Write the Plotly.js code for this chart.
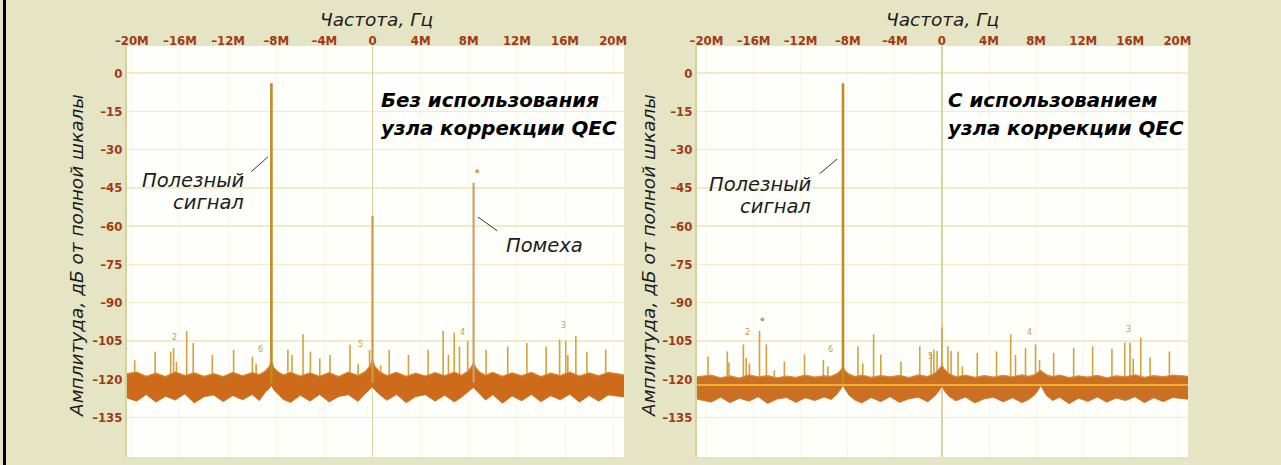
<!DOCTYPE html>
<html><head><meta charset="utf-8">
<script src="https://cdn.plot.ly/plotly-3.0.1.min.js"></script>
<style>html,body{margin:0;padding:0;background:#e5e4c4;overflow:hidden}#chart{width:1281px;height:465px}</style>
</head><body><div id="chart"></div>
<script>
// ---- data (frequency in MHz, level in dBFS) ----
const xTickVals = [-20,-16,-12,-8,-4,0,4,8,12,16,20];
const xTickText = ['–20M','–16M','–12M','–8M','–4M','0','4M','8M','12M','16M','20M'];
const yTickVals = [0,-15,-30,-45,-60,-75,-90,-105,-120,-135];
const yTickText = ['0','–15','–30','–45','–60','–75','–90','–105','–120','–135'];

const noiseFreq = [
 -21,-19.6,-18.8,-18.0,-17.2,-16.4,-15.6,-14.8,-14.0,-13.2,
 -12.4,-11.6,-10.8,-10.0,-9.4,-8.9,-8.6,-8.4,-8.2,-7.9,
 -7.4,-6.8,-6.0,-5.2,-4.4,-3.6,-2.8,-2.0,-1.2,-0.6,
 -0.2,0,0.2,0.6,1.2,2.0,2.8,3.6,4.4,5.2,
 6.0,6.8,7.4,7.9,8.2,8.4,8.6,8.9,9.4,10.0,
 10.8,11.6,12.4,13.2,14.0,14.8,15.6,16.4,17.2,18.0,
 18.8,19.6,21];
const noiseTopL = [
 -118.3,-117.2,-118.9,-117.6,-119.0,-117.1,-118.6,-117.5,-118.9,-117.8,
 -119.0,-117.3,-118.7,-117.4,-118.2,-116.8,-115.2,-113.0,-115.5,-117.0,
 -118.4,-117.3,-118.8,-117.5,-118.9,-117.4,-119.0,-117.2,-118.6,-117.0,
 -114.8,-112.5,-115.0,-117.1,-118.6,-117.3,-118.9,-117.6,-118.8,-117.4,
 -118.7,-117.2,-118.5,-117.0,-115.3,-113.6,-115.6,-117.2,-118.5,-117.3,
 -118.9,-117.5,-118.7,-117.3,-119.0,-117.6,-118.6,-117.2,-118.8,-117.5,
 -118.7,-117.3,-118.4];
const noiseBotL = [
 -126.5,-128.6,-126.0,-129.0,-126.7,-128.2,-125.8,-129.3,-126.9,-126.2,
 -128.8,-126.4,-128.1,-126.0,-128.4,-125.0,-123.8,-122.5,-124.2,-125.6,
 -128.0,-129.1,-126.3,-128.6,-126.0,-128.9,-126.8,-126.1,-128.7,-125.6,
 -124.0,-123.0,-124.3,-126.1,-128.3,-126.0,-129.2,-126.8,-126.1,-128.6,
 -126.3,-128.9,-127.1,-125.3,-124.0,-123.2,-124.3,-125.8,-128.2,-126.1,
 -129.4,-126.6,-128.5,-126.0,-128.8,-126.5,-128.1,-125.9,-129.0,-126.4,
 -128.6,-126.2,-127.0];
const noiseTopR = [
 -119.2,-118.4,-119.5,-118.7,-119.6,-118.3,-119.1,-118.6,-119.5,-118.8,
 -119.3,-118.4,-119.2,-118.7,-118.9,-117.8,-116.6,-115.2,-116.8,-118.0,
 -119.0,-118.4,-119.3,-118.6,-119.1,-118.5,-119.4,-118.3,-119.0,-117.7,
 -115.9,-114.5,-116.1,-117.8,-119.1,-118.4,-119.3,-118.6,-119.2,-118.5,
 -119.1,-118.3,-118.9,-118.2,-117.2,-116.6,-117.4,-118.3,-119.0,-118.4,
 -119.4,-118.7,-119.2,-118.5,-119.5,-118.7,-119.1,-118.3,-119.3,-118.6,
 -119.1,-118.4,-118.9];
const noiseBotR = [
 -127.6,-129.0,-127.1,-129.2,-127.5,-128.6,-126.9,-129.5,-127.8,-127.2,
 -129.1,-127.3,-128.4,-127.0,-128.0,-125.8,-123.9,-122.4,-124.1,-126.2,
 -128.2,-129.3,-127.2,-128.8,-126.9,-129.1,-127.7,-127.1,-128.9,-126.6,
 -124.3,-122.6,-124.5,-126.8,-128.5,-127.0,-129.3,-127.7,-127.1,-128.9,
 -127.3,-129.2,-127.9,-126.1,-124.1,-122.5,-124.2,-126.5,-128.4,-127.1,
 -129.6,-127.5,-128.7,-127.0,-129.0,-127.4,-128.4,-126.9,-129.2,-127.3,
 -128.8,-127.2,-127.9];
const floorLineR = [-122.3];

const spurFreqL = [-19.76,-18.06,-16.77,-16.53,-16.29,-15.44,-14.90,-13.31,-11.54,-9.98,-9.67,-7.03,-6.69,-5.77,-5.16,-4.38,-3.53,-1.87,-1.19,-0.24,0.68,1.39,2.99,4.62,5.87,6.31,6.79,7.23,7.91,9.44,11.24,12.83,14.43,15.55,16.06,16.23,16.9,17.82,19.38];
const spurTopL  = [-112.6,-109.2,-109.2,-107.8,-113.2,-101.1,-105.8,-110.5,-108.5,-111.2,-113.9,-108.5,-110.5,-102.4,-109.2,-111.9,-110.5,-106.5,-113.9,-108.5,-114.6,-108.5,-110.5,-108.5,-101.1,-110.5,-101.8,-107.2,-105.1,-108.5,-107.2,-105.8,-107.2,-104.5,-105.1,-110.5,-103.1,-109.2,-108.5];
const spurFreqR = [-19.86,-18.23,-18.09,-16.86,-16.62,-16.35,-15.49,-14.91,-14.23,-13.38,-11.67,-10.07,-9.69,-7.13,-6.72,-5.8,-5.19,-3.48,-1.88,-0.92,-0.68,-0.41,0,0.51,0.78,1.37,1.74,3.0,4.64,5.84,6.25,7.1,7.95,8.29,9.49,11.19,12.8,14.44,15.53,15.97,16.25,16.89,17.68,19.32];
const spurTopR  = [-111.1,-109.1,-113.5,-106.4,-111.7,-113.8,-101.1,-106.4,-116.5,-113.1,-110.4,-112.4,-115.0,-107.1,-113.8,-102.4,-110.4,-113.1,-107.1,-109.7,-108.4,-109.0,-99.7,-107.1,-109.0,-109.1,-115.0,-109.7,-109.1,-102.4,-110.5,-107.7,-106.4,-112.5,-109.7,-107.7,-107.1,-108.1,-105.7,-105.7,-112.0,-103.7,-111.5,-109.1];

const signalFreq = [-8.4];
const signalTopL = [-4];
const signalTopR = [-4];
const dcFreqL = [0];
const dcTopL = [-56];
const imageFreqL = [8.4];
const imageTopL = [-43];
const dotFreqL = [8.7];
const dotLevelL = [-38.5];
const dotFreqR = [-15.25];
const dotLevelR = [-96.6];

const numTextL = ['2','6','5','4','3'];
const numFreqL = [-16.43,-9.33,-0.98,7.47,15.89];
const numLevelL = [-103.8,-108.5,-106.5,-101.8,-99.1];
const numTextR = ['2','6','5','4','3'];
const numFreqR = [-16.5,-9.45,-1.0,7.44,15.87];
const numLevelR = [-101.7,-108.4,-111.0,-101.7,-100.4];

const spurBase = -121.5;

// ---- helpers ----
function sticks(freqs, tops, base){
  const x=[], y=[];
  freqs.forEach((f,i)=>{ x.push(f,f,null); y.push(base,tops[i],null); });
  return {x, y};
}
const W = 1281, H = 465;
const px = v => v / W;
const py = v => 1 - v / H;

const traces = [];
function addChart(xa, ya, spF, spT, top, bot, bandColor, edgeColor){
  const s = sticks(spF, spT, spurBase);
  traces.push({x:s.x, y:s.y, xaxis:xa, yaxis:ya, mode:'lines', line:{color:'#d4a23e', width:1.6}, hoverinfo:'skip'});
  traces.push({x:noiseFreq, y:bot, xaxis:xa, yaxis:ya, mode:'lines', line:{color:bandColor, width:0.8}, hoverinfo:'skip'});
  traces.push({x:noiseFreq, y:top, xaxis:xa, yaxis:ya, mode:'lines', fill:'tonexty', fillcolor:bandColor, line:{color:edgeColor, width:1.2}, hoverinfo:'skip'});
}
addChart('x','y', spurFreqL, spurTopL, noiseTopL, noiseBotL, '#cd6b1b', '#d98a2e');
addChart('x2','y2', spurFreqR, spurTopR, noiseTopR, noiseBotR, '#cb7023', '#d88e35');

// right: bright floor line
traces.push({x:[noiseFreq[0], noiseFreq[noiseFreq.length-1]], y:[floorLineR[0], floorLineR[0]], xaxis:'x2', yaxis:'y2', mode:'lines', line:{color:'#f2b12a', width:2}, hoverinfo:'skip'});

// main tones
let s;
s = sticks(signalFreq, signalTopL, spurBase);
traces.push({x:s.x, y:s.y, xaxis:'x', yaxis:'y', mode:'lines', line:{color:'#c38a1e', width:2.6}, hoverinfo:'skip'});
s = sticks(dcFreqL, dcTopL, spurBase);
traces.push({x:s.x, y:s.y, xaxis:'x', yaxis:'y', mode:'lines', line:{color:'#c99d3e', width:2.2}, hoverinfo:'skip'});
s = sticks(imageFreqL, imageTopL, spurBase);
traces.push({x:s.x, y:s.y, xaxis:'x', yaxis:'y', mode:'lines', line:{color:'#cfa06a', width:2.2}, hoverinfo:'skip'});
s = sticks(signalFreq, signalTopR, spurBase);
traces.push({x:s.x, y:s.y, xaxis:'x2', yaxis:'y2', mode:'lines', line:{color:'#c38a1e', width:2.6}, hoverinfo:'skip'});
traces.push({x:dotFreqL, y:dotLevelL, xaxis:'x', yaxis:'y', mode:'markers', marker:{color:'#c9a060', size:4}, hoverinfo:'skip'});
traces.push({x:dotFreqR, y:dotLevelR, xaxis:'x2', yaxis:'y2', mode:'markers', marker:{color:'#c9a060', size:4}, hoverinfo:'skip'});

// ---- axes ----
const tickFont = {family:'DejaVu Sans Condensed, DejaVu Sans, sans-serif', size:13, color:'#9e3b15', weight:'bold'};
function xAxis(dom, rng, anchor){
  return {domain:dom, range:rng, anchor:anchor, side:'top', tickmode:'array', tickvals:xTickVals, ticktext:xTickText,
    tickfont:tickFont, ticks:'', ticklabelstandoff:-3, showgrid:true, gridcolor:'#f7f6ea', gridwidth:1,
    zeroline:true, zerolinecolor:'#d9d4a0', zerolinewidth:1.5, showline:false, fixedrange:true, automargin:false};
}
function yAxis(dom, anchor){
  return {domain:dom, range:[-150.5, 10.6], anchor:anchor, tickmode:'array', tickvals:yTickVals, ticktext:yTickText,
    tickfont:tickFont, ticks:'', showgrid:true, gridcolor:'#efecca', gridwidth:1.5, zeroline:false,
    showline:true, linecolor:'#d6d29a', linewidth:2, fixedrange:true, automargin:false};
}
const yDom = [1 - 457/H, 1 - 46/H];

const italic = {family:'DejaVu Sans, sans-serif', size:18.5, color:'#1c1c1c', style:'italic'};
const boldIt = {family:'DejaVu Sans, sans-serif', size:19.8, color:'#000000', style:'italic', weight:'bold'};
const labelIt = {family:'DejaVu Sans, sans-serif', size:19.5, color:'#1c1c1c', style:'italic'};

const ann = [];
function txt(text, x, y, xanchor, font, extra){
  ann.push(Object.assign({text:text, x:px(x), y:py(y), xref:'paper', yref:'paper', xanchor:xanchor, yanchor:'middle', showarrow:false, font:font}, extra||{}));
}
txt('Частота, Гц', 376, 19, 'center', italic);
txt('Частота, Гц', 942, 19, 'center', italic);
txt('Амплитуда, дБ от полной шкалы', 76, 256, 'center', italic, {textangle:-90});
txt('Амплитуда, дБ от полной шкалы', 648, 256, 'center', italic, {textangle:-90});
txt('Без использования', 379, 101, 'left', boldIt);
txt('узла коррекции QEC', 379, 128, 'left', boldIt);
txt('С использованием', 946, 101, 'left', boldIt);
txt('узла коррекции QEC', 946, 128, 'left', boldIt);
txt('Полезный', 246, 181, 'right', labelIt);
txt('сигнал', 246, 203, 'right', labelIt);
txt('Полезный', 813, 184, 'right', labelIt);
txt('сигнал', 813, 206, 'right', labelIt);
txt('Помеха', 504, 245, 'left', labelIt);

// leader lines
function leader(xa, ya, x, y, ax, ay){
  ann.push({xref:xa, yref:ya, x:x, y:y, ax:ax, ay:ay, text:'', showarrow:true, arrowhead:0, arrowwidth:1, arrowcolor:'#333333'});
}
leader('x','y', -8.7, -32.9, -18, 16);
leader('x','y', 8.75, -56.4, 21, 15);
leader('x2','y2', -8.9, -33.7, -19, 16);

// small spur numbers
function nums(xa, ya, t, f, l){
  t.forEach((tt,i)=>ann.push({xref:xa, yref:ya, x:f[i], y:l[i], text:tt, showarrow:false, font:{family:'DejaVu Sans, sans-serif', size:8, color:'#c99c4c'}}));
}
nums('x','y', numTextL, numFreqL, numLevelL);
nums('x2','y2', numTextR, numFreqR, numLevelR);

const layout = {
  width:W, height:H, margin:{l:0,r:0,t:0,b:0},
  paper_bgcolor:'#e5e4c4', plot_bgcolor:'#fefefa', showlegend:false, hovermode:false,
  xaxis: xAxis([127/W, 624/W], [-20.4, 20.9], 'y'),
  yaxis: yAxis(yDom, 'x'),
  xaxis2: xAxis([697/W, 1188/W], [-20.8, 20.9], 'y2'),
  yaxis2: yAxis(yDom, 'x2'),
  annotations: ann,
  shapes: [{type:'rect', xref:'paper', yref:'paper', x0:px(3), x1:px(6), y0:0, y1:1, fillcolor:'#000000', line:{width:0}}]
};
Plotly.newPlot('chart', traces, layout, {staticPlot:true, displayModeBar:false});
</script></body></html>
